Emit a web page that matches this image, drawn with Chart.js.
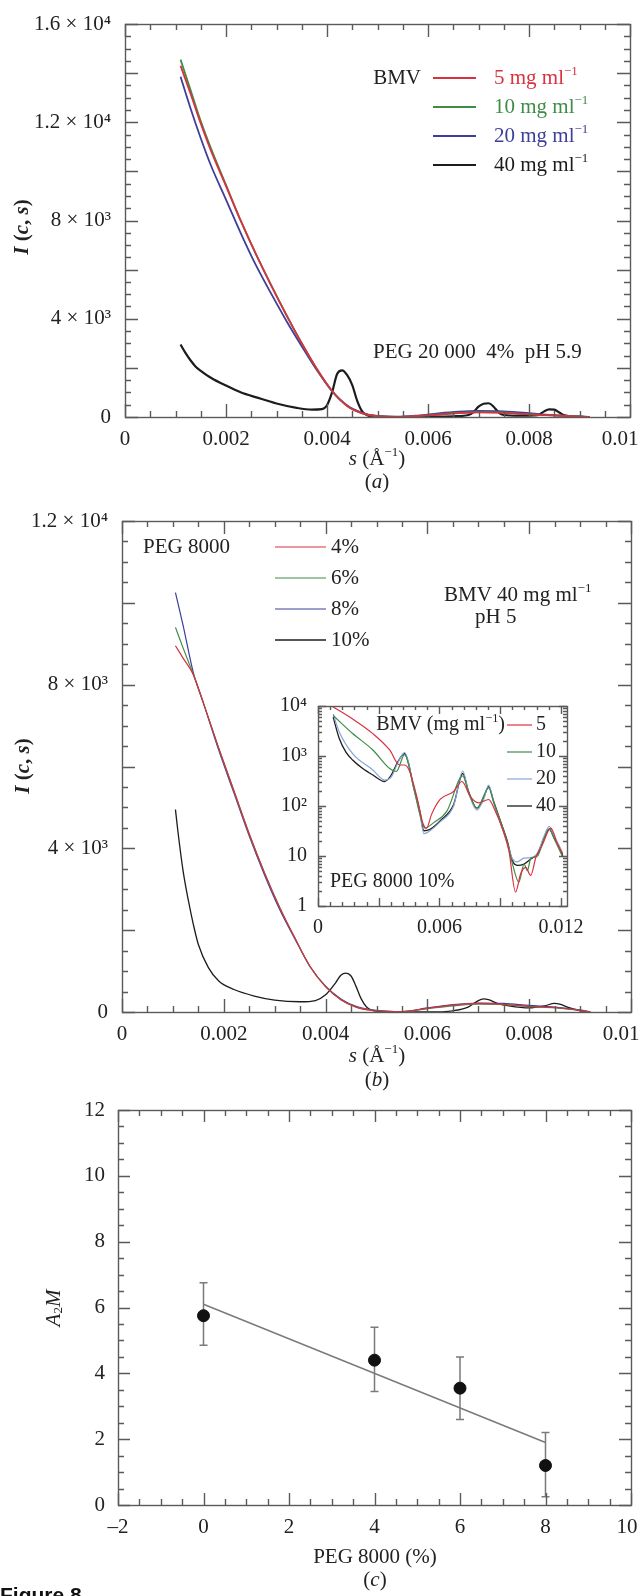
<!DOCTYPE html>
<html lang="pt">
<head>
<meta charset="utf-8">
<title>Figura 8</title>
<script src="https://cdn.jsdelivr.net/npm/chart.js@4.4.1/dist/chart.umd.min.js"></script>
<style>
    html, body { margin: 0; padding: 0; background: #fff; }
    #figura { position: relative; width: 639px; height: 1596px; overflow: hidden; background: #fff; }
    canvas { position: absolute; left: 0; }
</style>
</head>
<body>
<div id="figura">
    <canvas id="graficoA" width="639" height="500" style="top:0px"></canvas>
    <canvas id="graficoB" width="639" height="600" style="top:500px"></canvas>
    <canvas id="graficoInset" width="340" height="260" style="left:250px; top:690px"></canvas>
    <canvas id="graficoC" width="639" height="506" style="top:1090px"></canvas>
</div>
<script>
// ---------- (a) PEG 20 000 4% pH 5.9 ----------
const SERIES_A = ['5 mg ml⁻¹', '10 mg ml⁻¹', '20 mg ml⁻¹', '40 mg ml⁻¹'];
const A_S = [0.0011, 0.0013, 0.0015, 0.0017, 0.002, 0.0023, 0.0026, 0.0029, 0.0032, 0.0035, 0.0038, 0.0041, 0.0044,
             0.0047, 0.005, 0.0054, 0.0058, 0.0062, 0.0066, 0.007, 0.0074, 0.0078, 0.0082, 0.0086, 0.009, 0.0092];
const A_5  = [14300, 13150, 11950, 10850, 9400, 7950, 6600, 5330, 4130, 3000, 1950, 1060, 450, 150, 30, 5, 40, 100, 160, 190, 180, 130, 90, 50, 15, 0];
const A_10 = [14550, 13300, 12050, 10950, 9450, 7950, 6600, 5350, 4150, 3000, 1950, 1050, 450, 150, 30, 5, 40, 110, 170, 200, 190, 140, 90, 60, 20, 0];
const A_20 = [13850, 12550, 11350, 10250, 8850, 7450, 6150, 5000, 3900, 2880, 1900, 1050, 470, 170, 40, 10, 60, 150, 220, 250, 240, 190, 120, 70, 25, 0];
const A_S40 = [0.0011, 0.0012, 0.0013, 0.0014, 0.0015, 0.0017, 0.002, 0.0023, 0.0026, 0.003, 0.0034, 0.0037, 0.0039, 0.004, 0.0041,
               0.0042, 0.0043, 0.0044, 0.0045, 0.0046, 0.0047, 0.0048, 0.005, 0.0055, 0.006, 0.0065, 0.0068, 0.0069, 0.007, 0.0071,
               0.0072, 0.0073, 0.0074, 0.0075, 0.0078, 0.0081, 0.0082, 0.0083, 0.0084, 0.0085, 0.0086, 0.0087, 0.0089, 0.0091];
const A_40  = [2950, 2600, 2300, 2050, 1880, 1600, 1280, 1000, 800, 550, 370, 300, 320, 480, 1000,
               1750, 1900, 1700, 1300, 650, 220, 70, 10, 0, 10, 30, 80, 200, 420, 540,
               560, 420, 180, 80, 50, 60, 90, 230, 310, 300, 180, 70, 10, 0];
const A_X_TICKS = [0, 0.002, 0.004, 0.006, 0.008, 0.01];
const A_X_LABELS = ['0', '0.002', '0.004', '0.006', '0.008', '0.01'];
const A_Y_TICKS = [0, 4000, 8000, 12000, 16000];
const A_Y_LABELS = ['0', '4 × 10³', '8 × 10³', '1.2 × 10⁴', '1.6 × 10⁴'];

// ---------- (b) BMV 40 mg/ml, PEG 8000 ----------
const SERIES_B = ['4%', '6%', '8%', '10%'];
const B_S = [0.00105, 0.0012, 0.0014, 0.0016, 0.0019, 0.0022, 0.0025, 0.0028, 0.0031, 0.0034, 0.0037, 0.004,
             0.0043, 0.0046, 0.005, 0.0055, 0.006, 0.0065, 0.007, 0.0075, 0.008, 0.0085, 0.009, 0.0092];
const B_4 = [8950, 8650, 8250, 7550, 6450, 5400, 4350, 3400, 2550, 1800, 1100, 620, 300, 120, 30, 10, 90, 170, 210, 190, 140, 110, 40, 0];
const B_6 = [9400, 8900, 8250, 7550, 6450, 5400, 4350, 3400, 2550, 1800, 1100, 620, 300, 120, 30, 10, 80, 150, 190, 180, 130, 100, 40, 0];
const B_8 = [10250, 9450, 8300, 7550, 6400, 5350, 4300, 3350, 2500, 1780, 1100, 630, 320, 140, 40, 10, 100, 180, 220, 210, 160, 120, 50, 0];
const B_S10 = [0.00105, 0.0011, 0.0012, 0.0013, 0.0014, 0.0015, 0.0017, 0.0019, 0.0022, 0.0026, 0.003, 0.0035, 0.0038, 0.004,
               0.0042, 0.0043, 0.0044, 0.0045, 0.0046, 0.0047, 0.0048, 0.005, 0.0055, 0.006, 0.0065, 0.0068, 0.007, 0.0071,
               0.0072, 0.0074, 0.0076, 0.008, 0.0083, 0.0085, 0.0086, 0.0088, 0.009, 0.0092];
const B_10  = [4950, 4400, 3450, 2750, 2150, 1650, 1080, 760, 550, 390, 290, 250, 280, 420,
               720, 900, 950, 880, 620, 320, 130, 20, 0, 0, 30, 120, 280, 320,
               300, 200, 150, 100, 150, 210, 190, 100, 30, 0];
const B_Y_TICKS = [0, 4000, 8000, 12000];
const B_Y_LABELS = ['0', '4 × 10³', '8 × 10³', '1.2 × 10⁴'];

// ---------- inset: PEG 8000 10%, log ----------
const SERIES_INS = ['5', '10', '20', '40'];
const INS_S5 = [0.00071, 0.00171, 0.00271, 0.00354, 0.00403, 0.00428, 0.00453, 0.00486, 0.0052, 0.00536, 0.00561, 0.00603, 0.0067,
                0.00711, 0.00752, 0.00793, 0.00843, 0.00876, 0.0091, 0.00943, 0.00976, 0.01001, 0.01026, 0.01051, 0.01076,
                0.01109, 0.0115, 0.01184, 0.01209];
const INS_I5 = [9800, 5500, 2800, 1320, 660, 660, 490, 166, 43, 36, 68, 135, 195,
                309, 155, 115, 135, 79, 36, 12.6, 1.9, 4.4, 5.9, 4.1, 9.3,
                17, 36, 17, 11];
const INS_S10 = [0.00075, 0.00171, 0.00271, 0.00354, 0.00387, 0.00428, 0.0047, 0.00503, 0.00528, 0.0057, 0.00636, 0.00715,
                 0.00744, 0.00785, 0.00843, 0.00868, 0.00935, 0.0096, 0.00992, 0.01018, 0.01034, 0.01051, 0.01084, 0.01117,
                 0.01142, 0.01167, 0.01209];
const INS_I10 = [6460, 2820, 1320, 562, 490, 1070, 263, 68, 36, 46, 78, 398,
                 186, 91, 229, 117, 19, 7.1, 3.0, 6.9, 5.1, 8.9, 10, 22,
                 34, 22, 9.5];
const INS_S20 = [0.00075, 0.00105, 0.00171, 0.00271, 0.00329, 0.00362, 0.00395, 0.00428, 0.00445, 0.0047, 0.00503, 0.00523,
                 0.00553, 0.00603, 0.0067, 0.00715, 0.00744, 0.00785, 0.00818, 0.00843, 0.00868, 0.00901, 0.00935, 0.0096,
                 0.00984, 0.01018, 0.01051, 0.01084, 0.01117, 0.01142, 0.01167, 0.01192, 0.01209];
const INS_I20 = [6900, 3020, 1120, 525, 331, 380, 741, 1175, 794, 251, 71, 28,
                 32, 48, 100, 501, 182, 83, 135, 263, 117, 46, 18, 8.9,
                 7.6, 9.1, 9.3, 11.5, 25, 39, 25, 16, 11.2];
const INS_S40 = [0.00075, 0.00105, 0.00138, 0.00171, 0.00221, 0.00271, 0.00329, 0.00362, 0.00395, 0.00428, 0.00445, 0.0047,
                 0.00503, 0.00523, 0.00553, 0.00603, 0.0067, 0.00715, 0.00744, 0.00785, 0.00818, 0.00843, 0.00868, 0.00901,
                 0.00935, 0.0096, 0.00984, 0.01018, 0.01051, 0.01084, 0.01117, 0.01142, 0.01167, 0.01192, 0.01209];
const INS_I40 = [6000, 2240, 1200, 832, 562, 417, 309, 417, 776, 1122, 776, 263,
                 79, 32, 34, 50, 107, 447, 195, 91, 145, 245, 123, 50,
                 20, 8.1, 6.5, 6.9, 8.7, 11, 23, 35, 23, 15, 10];
const INS_X_TICKS = [0, 0.006, 0.012];
const INS_X_LABELS = ['0', '0.006', '0.012'];
const INS_Y_TICKS = [1, 10, 100, 1000, 10000];
const INS_Y_LABELS = ['1', '10', '10²', '10³', '10⁴'];

// ---------- (c) A2M x PEG 8000 ----------
const C_X = [0, 4, 6, 8];
const C_Y = [5.75, 4.4, 3.55, 1.2];
const C_ERR_LO = [4.85, 3.45, 2.6, 0.25];
const C_ERR_HI = [6.75, 5.4, 4.5, 2.2];
const FIT_X = [0, 8];
const FIT_Y = [6.1, 1.9];
const C_X_TICKS = [-2, 0, 2, 4, 6, 8, 10];
const C_X_LABELS = ['–2', '0', '2', '4', '6', '8', '10'];
const C_Y_TICKS = [0, 2, 4, 6, 8, 10, 12];
const C_Y_LABELS = ['0', '2', '4', '6', '8', '10', '12'];

const FONTE = '"Liberation Serif", "Times New Roman", serif';
const COR_TEXTO = '#222';
const COR_EIXO = '#5a5a5a';
const cores = { vermelho: '#d8313f', verde: '#3f8c46', azul: '#3d3f98', preto: '#1c1c1c', azulClaro: '#86a4d6', cinza: '#7a7a7a' };

Chart.defaults.animation = false;
Chart.defaults.events = [];
Chart.defaults.plugins.legend.display = false;
Chart.defaults.plugins.tooltip.enabled = false;
Chart.defaults.elements.point.radius = 0;
Chart.defaults.elements.line.cubicInterpolationMode = 'monotone';

// posicao de cada canvas na pagina e area do grafico (coordenadas da pagina)
const POS = {
    graficoA:     { ox: 0,   oy: 0,    w: 639, h: 500, l: 125, t: 24,   r: 630, b: 417 },
    graficoB:     { ox: 0,   oy: 500,  w: 639, h: 600, l: 122, t: 521,  r: 631, b: 1012 },
    graficoInset: { ox: 250, oy: 690,  w: 340, h: 260, l: 318, t: 706,  r: 567, b: 906 },
    graficoC:     { ox: 0,   oy: 1090, w: 639, h: 506, l: 118, t: 1110, r: 631, b: 1505 }
};

function pontos(xs, ys) {
    return xs.map((x, i) => ({ x: x, y: ys[i] }));
}

function layoutDe(id) {
    const p = POS[id];
    return { autoPadding: false, padding: { left: 0, top: p.t - p.oy, right: p.w - (p.r - p.ox), bottom: 0 } };
}

// dxUltimo: o ultimo rotulo do eixo x e desenhado pelo plugin, deslocado para caber na pagina
function eixo(id, lado, tipo, min, max, valores, rotulos, pad, tam, dxUltimo) {
    const p = POS[id];
    return {
        type: tipo,
        min: min,
        max: max,
        afterBuildTicks: s => { s.ticks = valores.map(v => ({ value: v })); },
        afterFit: s => {
            s.paddingLeft = 0; s.paddingRight = 0; s.paddingTop = 0; s.paddingBottom = 0;
            if (lado === 'x') s.height = p.h - (p.b - p.oy);
            else s.width = p.l - p.ox;
        },
        grid: { display: false, drawTicks: false },
        border: { display: false },
        ticks: {
            callback: (v, i) => (dxUltimo && i === rotulos.length - 1) ? '' : rotulos[i],
            autoSkip: false,
            maxRotation: 0,
            padding: pad,
            color: COR_TEXTO,
            font: { family: FONTE, size: tam }
        }
    };
}

// texto com italico / sobrescrito / subscrito
const SOBRE = { '⁻': '−', '¹': '1', '²': '2', '³': '3', '⁴': '4' };
function partesDe(txt) {
    const partes = [];
    for (const ch of txt) {
        const sup = ch in SOBRE;
        const c = sup ? SOBRE[ch] : ch;
        const ult = partes[partes.length - 1];
        if (ult && !!ult.sup === sup) ult.t += c;
        else partes.push({ t: c, sup: sup });
    }
    return partes;
}

function desenharTexto(ctx, o) {
    const tam = o.tam || 21;
    const partes = typeof o.segs === 'string' ? partesDe(o.segs) : o.segs;
    const medidas = partes.map(p => {
        const s = (p.sup || p.sub) ? tam * 0.62 : tam;
        const fonte = (p.it ? 'italic ' : '') + (o.bold ? 'bold ' : '') + s + 'px ' + (o.familia || FONTE);
        ctx.font = fonte;
        return { fonte: fonte, w: ctx.measureText(p.t).width, dy: p.sup ? -tam * 0.32 : (p.sub ? tam * 0.24 : 0) };
    });
    const total = medidas.reduce((a, m) => a + m.w, 0);
    ctx.save();
    ctx.translate(o.x, o.y);
    if (o.rot) ctx.rotate(o.rot);
    let x = o.align === 'left' ? 0 : (o.align === 'right' ? -total : -total / 2);
    ctx.fillStyle = o.cor || COR_TEXTO;
    ctx.textAlign = 'left';
    ctx.textBaseline = 'middle';
    partes.forEach((p, i) => {
        ctx.font = medidas[i].fonte;
        ctx.fillText(p.t, x, medidas[i].dy);
        x += medidas[i].w;
    });
    ctx.restore();
}

function valoresPasso(scale, passo) {
    const out = [];
    const n0 = Math.ceil(scale.min / passo - 1e-6);
    const n1 = Math.floor(scale.max / passo + 1e-6);
    for (let k = n0; k <= n1; k++) out.push(k * passo);
    return out;
}

// configuracao da moldura, legendas e textos de cada painel
const molduras = {
    graficoA: {
        marcasX: [[0.002, 13], [0.0005, 6]],
        marcasY: [[2000, 13], [500, 6]],
        ultimoX: { texto: A_X_LABELS[A_X_LABELS.length - 1], dx: -10 },
        legenda: { x1: 433, x2: 476, xt: 494, y0: 78, dy: 29, corSerie: true, tam: 21 },
        textos: [
            { segs: 'BMV', x: 421, y: 78, align: 'right' },
            { segs: 'PEG 20 000  4%  pH 5.9', x: 373, y: 352, align: 'left' },
            { segs: [{ t: 's', it: true }, { t: ' (Å' }, { t: '−1', sup: true }, { t: ')' }], x: 377, y: 459 },
            { segs: [{ t: '(' }, { t: 'a', it: true }, { t: ')' }], x: 377, y: 482 },
            { segs: [{ t: 'I', it: true }, { t: ' (' }, { t: 'c', it: true }, { t: ', ' }, { t: 's', it: true }, { t: ')' }],
              x: 23, y: 227, rot: -Math.PI / 2, bold: true }
        ]
    },
    graficoB: {
        marcasX: [[0.002, 13], [0.0005, 6]],
        marcasY: [[2000, 13], [500, 6]],
        ultimoX: { texto: A_X_LABELS[A_X_LABELS.length - 1], dx: -10 },
        legenda: { x1: 275, x2: 326, xt: 331, y0: 547, dy: 31, corSerie: false, tam: 21 },
        textos: [
            { segs: 'PEG 8000', x: 143, y: 547, align: 'left' },
            { segs: 'BMV 40 mg ml⁻¹', x: 444, y: 595, align: 'left' },
            { segs: 'pH 5', x: 475, y: 617, align: 'left' },
            { segs: [{ t: 's', it: true }, { t: ' (Å' }, { t: '−1', sup: true }, { t: ')' }], x: 377, y: 1056 },
            { segs: [{ t: '(' }, { t: 'b', it: true }, { t: ')' }], x: 377, y: 1080 },
            { segs: [{ t: 'I', it: true }, { t: ' (' }, { t: 'c', it: true }, { t: ', ' }, { t: 's', it: true }, { t: ')' }],
              x: 24, y: 766, rot: -Math.PI / 2, bold: true }
        ]
    },
    graficoInset: {
        marcasX: [[0.003, 8], [0.0006, 4]],
        logY: [8, 4],
        legenda: { x1: 507, x2: 532, xt: 536, y0: 725, dy: 27, corSerie: false, tam: 20 },
        textos: [
            { segs: 'BMV (mg ml⁻¹)', x: 505, y: 725, align: 'right', tam: 20 },
            { segs: 'PEG 8000 10%', x: 330, y: 882, align: 'left', tam: 20 }
        ]
    },
    graficoC: {
        marcasX: [[2, 12], [0.5, 6]],
        marcasY: [[2, 12], [0.5, 6]],
        ultimoX: { texto: C_X_LABELS[C_X_LABELS.length - 1], dx: -4 },
        erros: { ds: 0, lo: C_ERR_LO, hi: C_ERR_HI, cap: 4, cor: cores.cinza },
        textos: [
            { segs: 'PEG 8000 (%)', x: 375, y: 1557 },
            { segs: [{ t: '(' }, { t: 'c', it: true }, { t: ')' }], x: 375, y: 1580 },
            { segs: [{ t: 'A', it: true }, { t: '2', sub: true }, { t: 'M', it: true }], x: 54, y: 1308, rot: -Math.PI / 2 },
            { segs: 'Figure 8', x: 0, y: 1596, align: 'left', bold: true, familia: '"Liberation Sans", Arial, sans-serif', cor: '#111' }
        ]
    }
};

const pluginMoldura = {
    id: 'moldura',
    beforeDatasetsDraw(chart) {
        const cfg = molduras[chart.canvas.id];
        if (!cfg || !cfg.erros) return;
        const e = cfg.erros;
        const ctx = chart.ctx;
        const sy = chart.scales.y;
        const meta = chart.getDatasetMeta(e.ds);
        ctx.save();
        ctx.strokeStyle = e.cor;
        ctx.lineWidth = 1.5;
        ctx.beginPath();
        meta.data.forEach((pt, i) => {
            const y1 = sy.getPixelForValue(e.lo[i]);
            const y2 = sy.getPixelForValue(e.hi[i]);
            ctx.moveTo(pt.x, y1); ctx.lineTo(pt.x, y2);
            ctx.moveTo(pt.x - e.cap, y1); ctx.lineTo(pt.x + e.cap, y1);
            ctx.moveTo(pt.x - e.cap, y2); ctx.lineTo(pt.x + e.cap, y2);
        });
        ctx.stroke();
        ctx.restore();
    },
    afterDatasetsDraw(chart) {
        const cfg = molduras[chart.canvas.id];
        if (!cfg) return;
        const ctx = chart.ctx;
        const a = chart.chartArea;
        const sx = chart.scales.x;
        const sy = chart.scales.y;
        ctx.save();
        ctx.strokeStyle = COR_EIXO;
        ctx.lineWidth = 1.4;
        ctx.beginPath();
        (cfg.marcasX || []).forEach(([passo, comp]) => {
            valoresPasso(sx, passo).forEach(v => {
                const px = Math.round(sx.getPixelForValue(v)) + 0.5;
                ctx.moveTo(px, a.bottom); ctx.lineTo(px, a.bottom - comp);
                ctx.moveTo(px, a.top); ctx.lineTo(px, a.top + comp);
            });
        });
        (cfg.marcasY || []).forEach(([passo, comp]) => {
            valoresPasso(sy, passo).forEach(v => {
                const py = Math.round(sy.getPixelForValue(v)) + 0.5;
                ctx.moveTo(a.left, py); ctx.lineTo(a.left + comp, py);
                ctx.moveTo(a.right, py); ctx.lineTo(a.right - comp, py);
            });
        });
        if (cfg.logY) {
            const d0 = Math.floor(Math.log10(sy.min));
            const d1 = Math.ceil(Math.log10(sy.max));
            for (let d = d0; d <= d1; d++) {
                for (let m = 1; m <= 9; m++) {
                    const v = m * Math.pow(10, d);
                    if (v < sy.min * 0.999 || v > sy.max * 1.001) continue;
                    const comp = m === 1 ? cfg.logY[0] : cfg.logY[1];
                    const py = Math.round(sy.getPixelForValue(v)) + 0.5;
                    ctx.moveTo(a.left, py); ctx.lineTo(a.left + comp, py);
                    ctx.moveTo(a.right, py); ctx.lineTo(a.right - comp, py);
                }
            }
        }
        ctx.stroke();
        ctx.strokeRect(a.left + 0.5, a.top + 0.5, a.right - a.left, a.bottom - a.top);
        ctx.restore();

        // ultimo rotulo do eixo x, na mesma linha dos outros mas puxado para dentro da pagina
        if (cfg.ultimoX) {
            const itens = sx.getLabelItems();
            const item = itens[itens.length - 1];
            ctx.save();
            ctx.font = item.font.string;
            ctx.fillStyle = COR_TEXTO;
            ctx.textAlign = 'center';
            ctx.textBaseline = item.options.textBaseline;
            ctx.fillText(cfg.ultimoX.texto, item.options.translation[0] + cfg.ultimoX.dx,
                         item.options.translation[1] + item.textOffset);
            ctx.restore();
        }

        const p = POS[chart.canvas.id];
        ctx.save();
        ctx.translate(-p.ox, -p.oy);
        if (cfg.legenda) {
            const L = cfg.legenda;
            chart.data.datasets.forEach((ds, i) => {
                const y = L.y0 + i * L.dy;
                ctx.strokeStyle = ds.borderColor;
                ctx.lineWidth = ds.borderWidth;
                ctx.beginPath();
                ctx.moveTo(L.x1, y);
                ctx.lineTo(L.x2, y);
                ctx.stroke();
                desenharTexto(ctx, { segs: ds.label, x: L.xt, y: y, align: 'left', tam: L.tam,
                                     cor: L.corSerie ? ds.borderColor : COR_TEXTO });
            });
        }
        (cfg.textos || []).forEach(t => desenharTexto(ctx, t));
        ctx.restore();
    }
};
Chart.register(pluginMoldura);

function serie(label, xs, ys, cor, largura) {
    return { label: label, data: pontos(xs, ys), borderColor: cor, borderWidth: largura, fill: false };
}

new Chart(document.getElementById('graficoA'), {
    type: 'line',
    data: {
        datasets: [
            serie(SERIES_A[0], A_S, A_5, cores.vermelho, 1.8),
            serie(SERIES_A[1], A_S, A_10, cores.verde, 1.8),
            serie(SERIES_A[2], A_S, A_20, cores.azul, 1.8),
            serie(SERIES_A[3], A_S40, A_40, cores.preto, 2.2)
        ]
    },
    options: {
        responsive: false,
        devicePixelRatio: 1,
        layout: layoutDe('graficoA'),
        scales: {
            x: eixo('graficoA', 'x', 'linear', 0, 0.01, A_X_TICKS, A_X_LABELS, 10, 21, -10),
            y: eixo('graficoA', 'y', 'linear', 0, 16000, A_Y_TICKS, A_Y_LABELS, 14, 21)
        }
    }
});

new Chart(document.getElementById('graficoB'), {
    type: 'line',
    data: {
        datasets: [
            serie(SERIES_B[0], B_S, B_4, cores.vermelho, 1.2),
            serie(SERIES_B[1], B_S, B_6, cores.verde, 1.2),
            serie(SERIES_B[2], B_S, B_8, cores.azul, 1.2),
            serie(SERIES_B[3], B_S10, B_10, cores.preto, 1.3)
        ]
    },
    options: {
        responsive: false,
        devicePixelRatio: 1,
        layout: layoutDe('graficoB'),
        scales: {
            x: eixo('graficoB', 'x', 'linear', 0, 0.01, A_X_TICKS, A_X_LABELS, 10, 21, -10),
            y: eixo('graficoB', 'y', 'linear', 0, 12000, B_Y_TICKS, B_Y_LABELS, 14, 21)
        }
    }
});

new Chart(document.getElementById('graficoInset'), {
    type: 'line',
    data: {
        datasets: [
            serie(SERIES_INS[0], INS_S5, INS_I5, cores.vermelho, 1.2),
            serie(SERIES_INS[1], INS_S10, INS_I10, cores.verde, 1.2),
            serie(SERIES_INS[2], INS_S20, INS_I20, cores.azulClaro, 1.2),
            serie(SERIES_INS[3], INS_S40, INS_I40, cores.preto, 1.3)
        ]
    },
    options: {
        responsive: false,
        devicePixelRatio: 1,
        layout: layoutDe('graficoInset'),
        scales: {
            x: eixo('graficoInset', 'x', 'linear', 0, 0.0123, INS_X_TICKS, INS_X_LABELS, 10, 20),
            y: eixo('graficoInset', 'y', 'logarithmic', 1, 10000, INS_Y_TICKS, INS_Y_LABELS, 11, 20)
        }
    }
});

new Chart(document.getElementById('graficoC'), {
    type: 'line',
    data: {
        datasets: [
            { label: 'A2M', data: pontos(C_X, C_Y), showLine: false, pointRadius: 6,
              pointBackgroundColor: '#111', pointBorderColor: '#111', borderColor: '#111' },
            { label: 'ajuste', data: pontos(FIT_X, FIT_Y), borderColor: cores.cinza, borderWidth: 1.5,
              cubicInterpolationMode: 'default', tension: 0 }
        ]
    },
    options: {
        responsive: false,
        devicePixelRatio: 1,
        layout: layoutDe('graficoC'),
        scales: {
            x: eixo('graficoC', 'x', 'linear', -2, 10, C_X_TICKS, C_X_LABELS, 10, 21, -4),
            y: eixo('graficoC', 'y', 'linear', 0, 12, C_Y_TICKS, C_Y_LABELS, 13, 21)
        }
    }
});
</script>
</body>
</html>
